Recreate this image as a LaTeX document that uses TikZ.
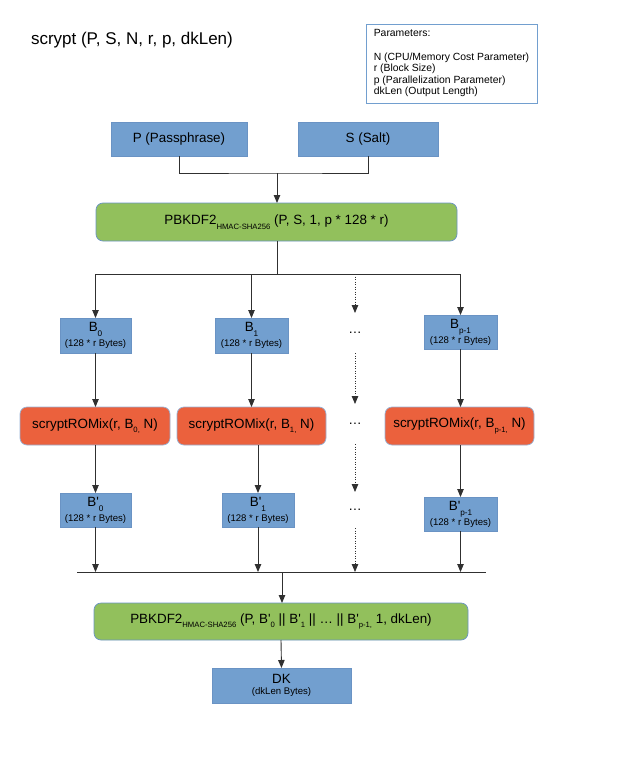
\documentclass[tikz,border=0pt]{standalone}
\usepackage{fontspec}
\setmainfont{Liberation Sans}[Ligatures=TeXOff]
\usetikzlibrary{arrows.meta}
\definecolor{boxblue}{HTML}{729FCF}
\definecolor{boxgreen}{HTML}{92C05C}
\definecolor{boxorange}{HTML}{EB613D}
\definecolor{edgeblue}{HTML}{6A93C4}
\definecolor{linegray}{HTML}{303030}
\newcommand\lowidx[1]{\raisebox{-4.5pt}{\fontsize{7.7}{8}\selectfont #1}}
\newcommand\bidx[1]{\raisebox{-5pt}{\fontsize{8.2}{8}\selectfont #1}}
\newcommand\bytes[1]{{\fontsize{9.6}{11}\selectfont #1}}
\begin{document}
\begin{tikzpicture}[x=1pt,y=-1pt,
  every node/.style={inner sep=0pt, outer sep=0pt},
  blk/.style={draw=edgeblue, line width=0.7pt, fill=boxblue, align=center, font=\fontsize{13.4}{15}\selectfont},
  grn/.style={draw=edgeblue, line width=0.7pt, fill=boxgreen, rounded corners=7pt, font=\fontsize{13.4}{14}\selectfont},
  org/.style={draw=edgeblue!70!white, line width=0.7pt, fill=boxorange, rounded corners=7pt, font=\fontsize{13.4}{14}\selectfont},
  dotnode/.style={font=\fontsize{13.4}{14}\selectfont},
  lin/.style={draw=linegray, line width=0.9pt},
  conn/.style={draw=linegray, line width=0.9pt, -{Triangle[length=8pt,width=6.5pt]}},
  dotc/.style={draw=linegray, line width=0.8pt, dash pattern=on 1pt off 1.5pt, -{Triangle[length=8pt,width=6.5pt]}}
]
\useasboundingbox (0,0) rectangle (640,768);

\node[anchor=west, font=\fontsize{17}{20}\selectfont] (title) at (31,40) {scrypt (P, S, N, r, p, dkLen)};
\node[draw=boxblue, line width=0.8pt, minimum width=171, minimum height=79, align=left,
      font=\fontsize{10.4}{11.6}\selectfont] (params) at (451.5,63.5)
  {Parameters:\\[11.6pt]N (CPU/Memory Cost Parameter)\\r (Block Size)\\p (Parallelization Parameter)\\dkLen (Output Length)};

\node[blk, minimum width=136, minimum height=34] (P) at (179,139) {P (Passphrase)};
\node[blk, minimum width=140, minimum height=34] (S) at (368,139) {S (Salt)};
\node[grn, minimum width=361, minimum height=38] (pb1) at (276.5,222) {PBKDF2\lowidx{HMAC-SHA256} (P, S, 1, p * 128 * r)};

\node[blk, minimum width=71, minimum height=35] (B0) at (95.5,335.5) {B\bidx{0}\\\bytes{(128 * r Bytes)}};
\node[blk, minimum width=73, minimum height=35] (B1) at (251.5,335.5) {B\bidx{1}\\\bytes{(128 * r Bytes)}};
\node[blk, minimum width=73, minimum height=34] (Bp) at (460.5,332) {B\bidx{p-1}\\\bytes{(128 * r Bytes)}};
\node[dotnode, minimum height=40] (dots1) at (355,333) {…};

\node[org, minimum width=150, minimum height=38] (R0) at (95,426) {scryptROMix(r, B\lowidx{0,} N)};
\node[org, minimum width=149, minimum height=38] (R1) at (251.5,426) {scryptROMix(r, B\lowidx{1,} N)};
\node[org, minimum width=149, minimum height=38] (Rp) at (459.5,426) {scryptROMix(r, B\lowidx{p-1,} N)};
\node[dotnode, minimum height=40] (dots2) at (355,424) {…};

\node[blk, minimum width=71, minimum height=34] (Bq0) at (95.5,510) {B'\bidx{0}\\\bytes{(128 * r Bytes)}};
\node[blk, minimum width=72, minimum height=34] (Bq1) at (258,510) {B'\bidx{1}\\\bytes{(128 * r Bytes)}};
\node[blk, minimum width=73, minimum height=34] (Bqp) at (460.5,514) {B'\bidx{p-1}\\\bytes{(128 * r Bytes)}};
\node[dotnode, minimum height=36] (dots3) at (355,510) {…};

\node[grn, minimum width=374, minimum height=37] (pb2) at (281,621.5)
  {PBKDF2\lowidx{HMAC-SHA256} (P, B'\lowidx{0} || B'\lowidx{1} || … || B'\lowidx{p-1,} 1, dkLen)};
\node[blk, minimum width=139, minimum height=35, font=\fontsize{13.4}{11.5}\selectfont] (DK) at (281.5,685.5) {DK\\\bytes{(dkLen Bytes)}};

% connectors
\coordinate (j1) at (277,173);
\draw[lin] (P.south) |- (j1) -| (S.south);
\draw[conn] (j1) -- (j1 |- pb1.north);

\coordinate (j2) at (277,274);
\draw[lin] (j2 |- pb1.south) -- (j2);
\draw[conn] (j2) -| (B0.north);
\draw[conn] (j2) -| (B1.north);
\draw[conn] (j2) -| (Bp.north);
\draw[dotc] (j2 -| dots1) -- (dots1.north);

\draw[conn] (B0.south) -- (B0.south |- R0.north);
\draw[conn] (B1.south) -- (B1.south |- R1.north);
\draw[conn] (Bp.south) -- (Bp.south |- Rp.north);
\draw[dotc] (dots1.south) -- (dots2.north);

\draw[conn] (Bq0.north |- R0.south) -- (Bq0.north);
\draw[conn] (Bq1.north |- R1.south) -- (Bq1.north);
\draw[conn] (Bqp.north |- Rp.south) -- (Bqp.north);
\draw[dotc] (dots2.south) -- (dots3.north);

\coordinate (L) at (282,572);
\coordinate (Ll) at (77,572);
\coordinate (Lr) at (486,572);
\draw[lin] (Ll) -- (Lr);
\draw[conn] (Bq0.south) -- (Bq0.south |- L);
\draw[conn] (Bq1.south) -- (Bq1.south |- L);
\draw[conn] (Bqp.south) -- (Bqp.south |- L);
\draw[dotc] (dots3.south) -- (dots3.south |- L);

\draw[conn] (L) -- (L |- pb2.north);
\draw[conn] (pb2.south) -- (DK.north);
\end{tikzpicture}
\end{document}
